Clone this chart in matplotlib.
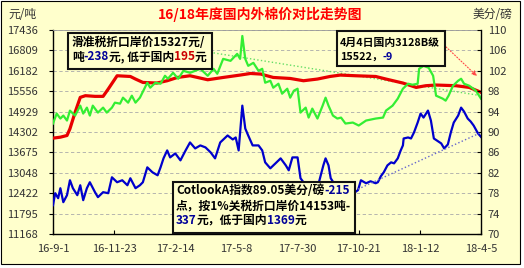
import pandas as pd
import matplotlib
matplotlib.use('Agg')
import matplotlib.pyplot as plt
from matplotlib.patches import Rectangle

plt.rcParams['font.family'] = ['Noto Sans CJK SC', 'DejaVu Sans']

# days since 2016-09-01
start = pd.Timestamp('2016-09-01')

# 国内3128B (red, left axis)
red_day = [0, 10, 19, 23, 30, 37, 44, 57, 68, 75, 87, 105, 112, 122, 141, 155, 169, 186, 210, 231,
           254, 268, 282, 299, 322, 340, 359, 376, 390, 411, 438, 452, 475, 493, 506, 520, 547, 565, 581]
red_val = [14113, 14143, 14195, 14400, 14907, 15366, 15418, 15397, 15397, 15623, 16030, 16008, 15929, 15825,
           15806, 15877, 15978, 16030, 15907, 15978, 16051, 16100, 16082, 15978, 15947, 15877, 15929, 16008,
           16051, 16030, 16008, 15929, 15806, 15672, 15724, 15745, 15724, 15672, 15522]

# 滑准税折口岸价 (green, left axis)
green_day = [0, 5, 10, 14, 19, 23, 30, 37, 41, 46, 50, 54, 61, 68, 73, 80, 84, 91, 95, 102,
             107, 112, 118, 128, 132, 139, 146, 152, 156, 163, 170, 177, 186, 200, 210, 218, 223, 231, 241, 250,
             254, 257, 261, 265, 272, 279, 284, 288, 295, 299, 306, 311, 318, 322, 327, 332, 336, 343, 347, 352,
             359, 366, 370, 374, 380, 386, 391, 397, 407, 415, 425, 438, 448, 452, 461, 468, 475, 482, 488, 495,
             497, 503, 510, 516, 520, 529, 533, 537, 543, 550, 554, 558, 565, 574, 581]
green_val = [14562, 14868, 14715, 14807, 14654, 14959, 14807, 15112, 14868, 15051,
             14807, 15112, 14898, 15051, 14898, 15051, 15204, 15173, 15357, 15204,
             15418, 15204, 15357, 15816, 15663, 15816, 15785, 16030, 15938, 16121,
             15938, 16182, 16121, 16244, 16030, 16244, 16091, 16549, 16488, 16702,
             16549, 17253, 16549, 16335, 16427, 16182, 16244, 15816, 15877, 15663,
             15785, 15479, 15632, 15357, 15571, 15632, 14898, 15051, 14745, 15021,
             14715, 15112, 15357, 15112, 14807, 14715, 14745, 14562, 14592, 14501,
             14654, 14715, 14745, 14959, 15112, 15327, 15632, 15785, 15754, 15785,
             16244, 16335, 16274, 16030, 15418, 15327, 15265, 15418, 15724, 15877,
             15938, 15785, 15724, 15571, 15327]

# Cotlook A (blue, right axis)
blue_day = [0, 3, 7, 10, 14, 19, 23, 27, 33, 37, 41, 46, 50, 57, 61, 68, 75, 80, 87, 94,
            101, 105, 112, 118, 122, 128, 135, 142, 146, 150, 155, 159, 166, 173, 180, 186, 193, 200, 207, 214,
            220, 227, 237, 244, 248, 252, 257, 261, 265, 271, 279, 284, 288, 295, 302, 309, 316, 320, 325, 332,
            336, 340, 347, 354, 361, 367, 370, 374, 377, 384, 391, 397, 404, 408, 414, 418, 425, 431, 438, 441,
            445, 449, 454, 459, 463, 468, 472, 475, 476, 482, 486, 490, 495, 499, 503, 509, 513, 517, 523, 527,
            531, 536, 540, 544, 550, 554, 558, 563, 567, 571, 577, 581]
blue_val = [75.66, 78.0, 77.02, 78.98, 76.24, 77.61, 80.54, 78.98, 77.61, 79.56,
            76.63, 78.98, 80.15, 78.2, 77.22, 78.2, 78.0, 81.12, 80.15, 80.54,
            79.56, 80.93, 78.98, 79.56, 80.15, 83.07, 82.1, 81.51, 83.07, 84.83,
            86.39, 85.02, 85.8, 84.44, 86.39, 87.95, 86.78, 87.37, 86.98, 86.0,
            84.83, 87.95, 89.32, 88.54, 88.93, 86.39, 95.17, 90.68, 89.32, 87.37,
            87.37, 86.39, 84.05, 82.88, 83.85, 84.83, 83.46, 82.49, 85.02, 85.02,
            80.93, 80.15, 79.56, 79.95, 80.15, 83.46, 84.83, 83.46, 80.93, 79.37,
            78.59, 78.2, 78.98, 78.0, 78.59, 80.54, 79.95, 80.34, 79.95, 80.15,
            81.32, 82.1, 83.46, 84.05, 83.85, 84.83, 86.39, 87.37, 88.73, 88.93,
            88.73, 89.9, 91.85, 93.61, 92.83, 94.2, 92.24, 88.73, 88.15, 87.76,
            86.78, 87.56, 89.9, 91.85, 93.22, 94.78, 94.0, 92.63, 92.05, 91.27,
            89.71, 89.05]

# dotted trend lines
green_trend_day = [218, 581]
green_trend_val = [16733, 15418]
blue_trend_day = [414, 581]
blue_trend_val = [78.8, 89.9]

tick_dates = ['2016-09-01', '2016-11-23', '2017-02-14', '2017-05-08',
              '2017-07-30', '2017-10-21', '2018-01-12', '2018-04-05']
tick_labels = ['16-9-1', '16-11-23', '17-2-14', '17-5-8', '17-7-30', '17-10-21', '18-1-12', '18-4-5']
left_ticks = [11168, 11795, 12422, 13048, 13675, 14302, 14929, 15556, 16182, 16809, 17436]
right_ticks = [70, 74, 78, 82, 86, 90, 94, 98, 102, 106, 110]


def to_dates(days):
    return start + pd.to_timedelta(days, unit='D')


W, H = 524, 268
BG = '#FFFFCC'

fig = plt.figure(figsize=(W / 100, H / 100), dpi=100, facecolor='white')
fig.add_artist(Rectangle((0.5 / W, 1 - 263.5 / H), 519 / W, 263 / H, transform=fig.transFigure,
                         facecolor=BG, edgecolor='black', lw=0.8, zorder=-10))

ax = fig.add_axes([53 / W, 1 - 234 / H, 428 / W, 204 / H])
ax.set_facecolor(BG)
ax2 = ax.twinx()

ax.plot(to_dates(red_day), red_val, color='#E80000', lw=2.3, zorder=3)
ax.plot(to_dates(green_day), green_val, color='#33EE33', lw=1.6, zorder=4)
ax.plot(to_dates(green_trend_day), green_trend_val, color='#66DD66', ls=':', lw=1, zorder=2)
ax2.plot(to_dates(blue_day), blue_val, color='#0000CC', lw=1.6)
ax2.plot(to_dates(blue_trend_day), blue_trend_val, color='#6666CC', ls=':', lw=1)

ax.set_xlim(to_dates([0, 581]))
ax.set_ylim(left_ticks[0], left_ticks[-1])
ax2.set_ylim(right_ticks[0], right_ticks[-1])

ax.set_xticks(pd.to_datetime(tick_dates))
ax.set_xticklabels(tick_labels)
ax.set_yticks(left_ticks)
ax.set_yticklabels([str(v) for v in left_ticks])
ax2.set_yticks(right_ticks)
ax2.set_yticklabels([str(v) for v in right_ticks])

ax.grid(axis='y', color='#AAAAAA', ls=(0, (4, 3)), lw=0.6)
ax.tick_params(axis='y', direction='out', length=3, pad=8, labelsize=8, labelcolor='#333333')
ax.tick_params(axis='x', direction='in', length=3, pad=7, labelsize=8, labelcolor='#333333')
ax2.tick_params(axis='y', direction='in', length=3, pad=5, labelsize=8, labelcolor='#333333')

for s in ['left', 'bottom']:
    ax.spines[s].set_linewidth(1)
ax.spines['right'].set_visible(False)
ax.spines['top'].set_color('#999999')
ax.spines['top'].set_linewidth(0.6)
for s in ['left', 'bottom', 'top']:
    ax2.spines[s].set_visible(False)
ax2.spines['right'].set_linewidth(1)

# titles and units
fig.text(260 / W, 1 - 14 / H, '16/18年度国内外棉价对比走势图', color='#FF0000', fontsize=10,
         fontweight='bold', ha='center', va='center')
fig.text(8 / W, 1 - 14 / H, '元/吨', color='#333333', fontsize=8.5, ha='left', va='center')
fig.text(473 / W, 1 - 14 / H, '美分/磅', color='#333333', fontsize=8.5, ha='left', va='center')

# red dotted arrow from the box
ax.annotate('', xy=(479 / W, 1 - 78 / H), xytext=(444 / W, 1 - 45 / H), xycoords='figure fraction',
            arrowprops=dict(arrowstyle='-|>', color='#FF4444', ls=':', lw=0.8, mutation_scale=7))

renderer = fig.canvas.get_renderer()
NAVY = '#000099'


def box(x0, y0, x1, y1):
    fig.add_artist(Rectangle((x0 / W, 1 - y1 / H), (x1 - x0) / W, (y1 - y0) / H, transform=fig.transFigure,
                             facecolor=BG, edgecolor='#111111', lw=1.5, zorder=5))


def line(x, y, parts, size=8.5):
    for s, c in parts:
        t = fig.text(x / W, 1 - y / H, s, color=c, fontsize=size, fontweight='bold',
                     ha='left', va='center', zorder=6)
        x += t.get_window_extent(renderer).width


box(68, 33, 212, 69)
line(72, 42, [('滑准税折口岸价15327元/', 'black')])
line(72, 57, [('吨', 'black'), ('-238', NAVY), ('元, 低于国内', 'black'), ('195', '#CC0000'), ('元', 'black')])

box(337, 31, 445, 66)
line(340, 43, [('4月4日国内3128B级', 'black')], size=7.8)
line(340, 57, [('15522，', 'black'), ('-9', NAVY)], size=7.8)

box(173, 182, 355, 233)
line(176, 191, [('CotlookA指数89.05美分/磅', 'black'), ('-215', NAVY)])
line(176, 206, [('点，按1%关税折口岸价14153吨-', 'black')])
line(176, 220, [('337', NAVY), ('元，低于国内', 'black'), ('1369', NAVY), ('元', 'black')])

fig.savefig('out.png', dpi=100, facecolor='white')
